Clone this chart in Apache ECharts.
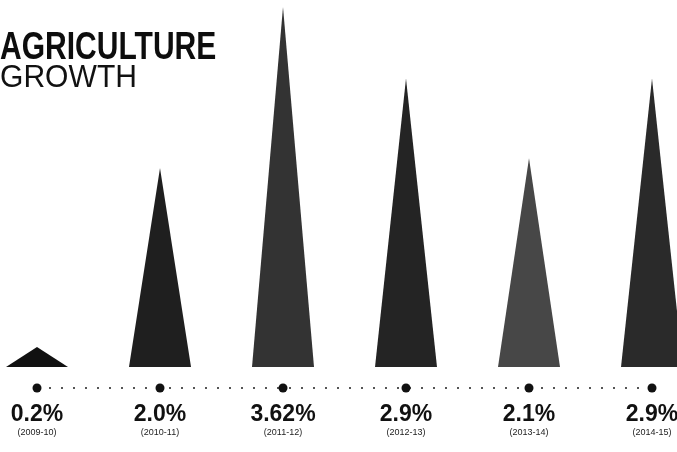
<!DOCTYPE html>
<html>
<head>
<meta charset="utf-8">
<script src="https://cdn.jsdelivr.net/npm/echarts@6/dist/echarts.min.js"></script>
<style>
  html, body { margin: 0; padding: 0; background: #fff; }
  #chart { width: 677px; height: 452px; }
</style>
</head>
<body>
<div id="chart"></div>
<script>
// Agriculture growth rate by fiscal year (%)
const years = ['(2009-10)', '(2010-11)', '(2011-12)', '(2012-13)', '(2013-14)', '(2014-15)'];
const growth = [0.2, 2.0, 3.62, 2.9, 2.1, 2.9];
const valueLabels = ['0.2%', '2.0%', '3.62%', '2.9%', '2.1%', '2.9%'];

// baseline markers under each year (one dot per year on the dotted rule)
const baseline = years.map(() => 0);

const inkShades = ['#111111', '#1f1f1f', '#333333', '#242424', '#474747', '#2a2a2a'];

const chart = echarts.init(document.getElementById('chart'), null, { renderer: 'canvas' });

chart.setOption({
  backgroundColor: '#ffffff',
  animation: false,
  grid: [
    { left: 37, right: 25, top: 0, bottom: 85, containLabel: false, outerBoundsMode: 'none' },
    { left: 37, right: 25, top: 384, height: 8, containLabel: false, outerBoundsMode: 'none' }
  ],
  xAxis: [
    {
      gridIndex: 0, type: 'category', data: years, boundaryGap: false, show: false
    },
    {
      gridIndex: 1, type: 'category', data: years, boundaryGap: false,
      axisLine: { show: false }, axisTick: { show: false }, splitLine: { show: false },
      axisLabel: {
        interval: 0, showMinLabel: true, showMaxLabel: true, hideOverlap: false,
        margin: 11,
        formatter: (val, idx) => '{v|' + valueLabels[idx] + '}\n{y|' + val + '}',
        rich: {
          v: { fontFamily: '"Liberation Sans", Arial, sans-serif', fontWeight: 'bold', fontSize: 23, lineHeight: 24, color: '#111', align: 'center' },
          y: { fontFamily: '"Liberation Sans", Arial, sans-serif', fontSize: 9, lineHeight: 12, color: '#222', align: 'center' }
        }
      }
    }
  ],
  yAxis: [
    { gridIndex: 0, type: 'value', min: 0, max: 3.69, show: false },
    { gridIndex: 1, type: 'value', min: -1, max: 1, show: false }
  ],
  graphic: [
    {
      type: 'text', x: 0, y: 29, scaleX: 0.77,
      style: { text: 'AGRICULTURE', font: 'bold 39px "Liberation Sans", Arial, sans-serif', fill: '#0d0d0d', textVerticalAlign: 'top' }
    },
    {
      type: 'text', x: 0, y: 63, scaleX: 0.97,
      style: { text: 'GROWTH', font: '31px "Liberation Sans", Arial, sans-serif', fill: '#111', textVerticalAlign: 'top' }
    }
  ],
  series: [
    {
      type: 'pictorialBar',
      xAxisIndex: 0, yAxisIndex: 0,
      symbol: 'triangle',
      symbolSize: ['100%', '100%'],
      barWidth: 62,
      data: growth.map((v, i) => ({ value: v, itemStyle: { color: inkShades[i] } }))
    },
    {
      type: 'line',
      xAxisIndex: 1, yAxisIndex: 1,
      data: baseline,
      symbol: 'circle',
      symbolSize: 9,
      itemStyle: { color: '#111' },
      lineStyle: { color: '#555', width: 2, type: [2, 10] }
    }
  ]
});
</script>
</body>
</html>
